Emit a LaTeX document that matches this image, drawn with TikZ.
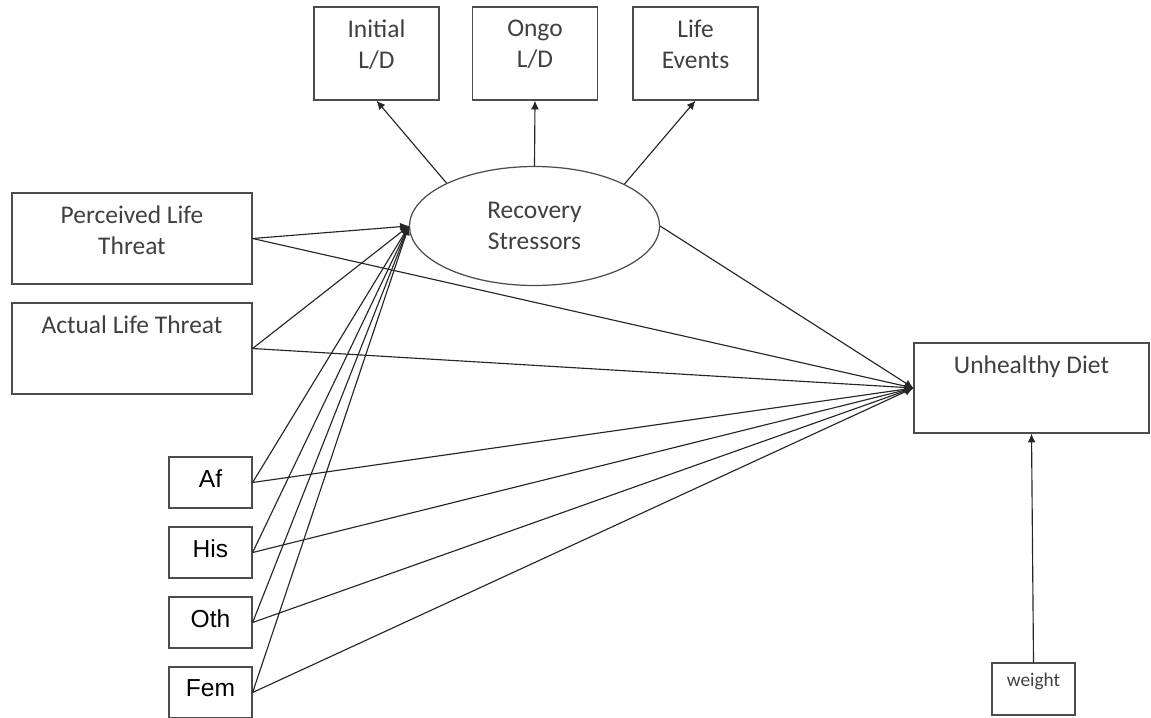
\documentclass[tikz,border=0pt]{standalone}
\usepackage{fontspec}
\setmainfont{Carlito}
\newfontfamily\arialfont{Liberation Sans}
\usetikzlibrary{positioning,shapes.geometric,arrows.meta}

\tikzstyle{box} = [draw=black!70, line width=0.7pt, inner sep=0pt]
\tikzstyle{txt} = [text centered, inner sep=0pt, anchor=north, align=center, text=black!75]
\tikzstyle{lnk} = [->, draw=black!85, line width=0.65pt]

\begin{document}
\begin{tikzpicture}[x=0.02cm, y=-0.02cm,
>={Latex[length=5pt,width=4.5pt]},
font=\fontsize{14.5}{17.6}\selectfont,
node distance=0.26cm,
]
\useasboundingbox (0,0) rectangle (1151,717);

%INDICATORS
\node[box, minimum width=2.5cm, minimum height=1.86cm] (ild) at (376.5,53.5) {};
\node[txt, below=of ild.north] (ildtxt) {Initial\\L/D};
\node[box, minimum width=2.5cm, minimum height=1.86cm] (old) at (535,53.5) {};
\node[txt, below=of old.north] (oldtxt) {Ongo\\L/D};
\node[box, minimum width=2.5cm, minimum height=1.86cm] (lev) at (695.5,53.5) {};
\node[txt, below=of lev.north] (levtxt) {Life\\Events};

%LATENT
\node[box, ellipse, minimum width=5cm, minimum height=2.38cm, align=center, text=black!75] (rs) at (534.5,226) {Recovery\\Stressors};

%THREAT
\node[box, minimum width=4.8cm, minimum height=1.82cm] (plt) at (132,238.5) {};
\node[txt, below=of plt.north] (plttxt) {Perceived Life\\Threat};
\node[box, minimum width=4.8cm, minimum height=1.82cm] (alt) at (132,348.5) {};
\node[txt, below=of alt.north] (alttxt) {Actual Life Threat};

%COVARIATES
\foreach \n/\lab [count=\i] in {af/Af,his/His,oth/Oth,fem/Fem} {%
 \node[box, minimum width=1.66cm, minimum height=1.02cm] (\n) at (210.5,412.5+70*\i) {};
 \node[txt, text=black, font=\arialfont\fontsize{14}{17}\selectfont, below=of \n.north] (\n txt) {\lab};
}

%OUTCOME
\node[box, minimum width=4.7cm, minimum height=1.8cm] (ud) at (1031.5,388) {};
\node[txt, below=of ud.north] (udtxt) {Unhealthy Diet};
\node[box, minimum width=1.66cm, minimum height=1.04cm] (wt) at (1033.5,689) {};
\node[txt, font=\fontsize{11}{13}\selectfont, below=0.2cm of wt.north] (wttxt) {weight};

%PATHS
\draw[lnk] (rs.154) -- (ild.south);
\draw[lnk] (rs.north) -- (old.south);
\draw[lnk] (rs.25) -- (lev.south);
\draw[lnk] (rs.east) -- (ud.west);
\foreach \n in {plt,alt,af,his,oth,fem} {%
 \draw[lnk] (\n.east) -- (rs.west);
 \draw[lnk] (\n.east) -- (ud.west);
}
\draw[lnk] (wt.north) -- (ud.south);
\end{tikzpicture}
\end{document}
